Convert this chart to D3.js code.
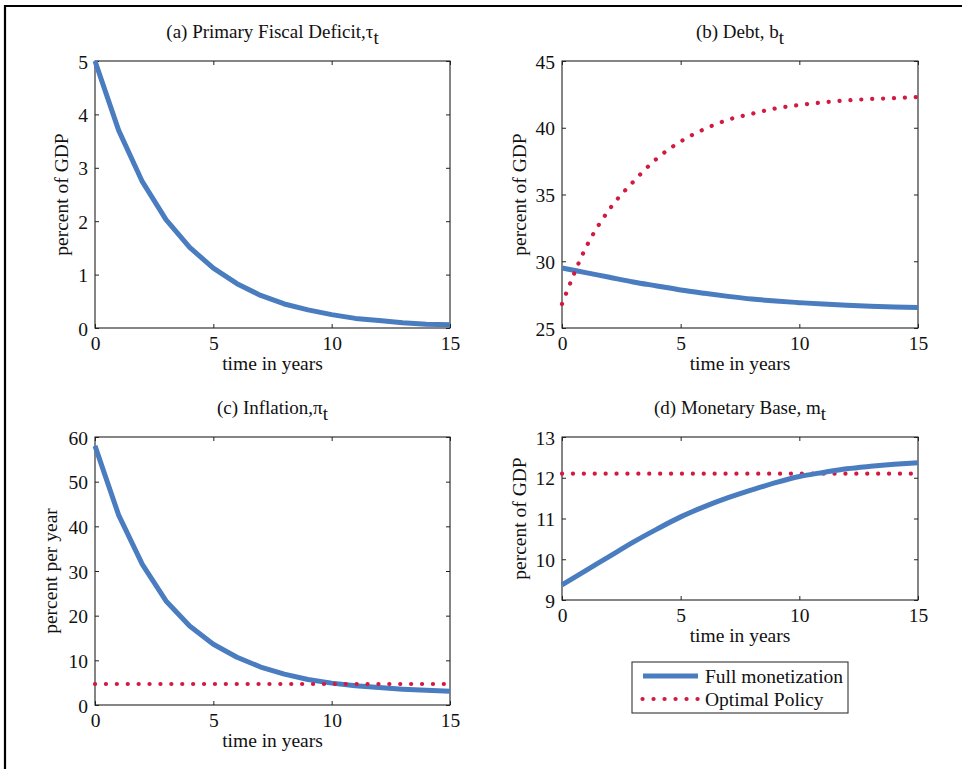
<!DOCTYPE html>
<html>
<head>
<meta charset="utf-8">
<script src="https://cdn.jsdelivr.net/npm/d3@7"></script>
<style>
  html, body { margin: 0; padding: 0; background: #fff; }
  svg { display: block; }
  text { font-family: "Liberation Serif", "Times New Roman", serif; fill: #111; }
</style>
</head>
<body>
<svg id="chart" width="962" height="769"></svg>
<script>
// ---- Data ----
const years = [0,1,2,3,4,5,6,7,8,9,10,11,12,13,14,15];

const deficitFull   = [5.0,3.70,2.74,2.03,1.51,1.12,0.83,0.61,0.45,0.34,0.25,0.18,0.14,0.10,0.07,0.06];

const debtFull      = [29.5,29.15,28.8,28.45,28.15,27.85,27.6,27.37,27.17,27.02,26.9,26.79,26.7,26.63,26.58,26.54];
const debtOptimal   = [26.8,31.0,33.9,35.95,37.7,38.97,39.9,40.6,41.05,41.45,41.7,41.9,42.05,42.15,42.22,42.3];

const inflationFull    = [58.0,42.5,31.5,23.3,17.7,13.6,10.7,8.5,6.9,5.7,4.9,4.3,3.9,3.55,3.3,3.1];
const inflationOptimal = [4.7,4.7,4.7,4.7,4.7,4.7,4.7,4.7,4.7,4.7,4.7,4.7,4.7,4.7,4.7,4.7];

const baseFull      = [9.37,9.72,10.07,10.42,10.74,11.04,11.29,11.51,11.7,11.88,12.03,12.13,12.22,12.28,12.33,12.37];
const baseOptimal   = [12.1,12.1,12.1,12.1,12.1,12.1,12.1,12.1,12.1,12.1,12.1,12.1,12.1,12.1,12.1,12.1];

const xTicks = [0,5,10,15];
const yTicksA = [0,1,2,3,4,5];
const yTicksB = [25,30,35,40,45];
const yTicksC = [0,10,20,30,40,50,60];
const yTicksD = [9,10,11,12,13];

const seriesNames = ["Full monetization", "Optimal Policy"];

// ---- Styles ----
const BLUE = "#4a7cc0";
const RED = "#d21a40";
const FS = 19.5;
const FS_TITLE = 19;
const FONT = "'Liberation Serif', 'Times New Roman', serif";

const svg = d3.select("#chart");

// outer frame (top and left lines)
svg.append("line").attr("x1", 5).attr("x2", 962).attr("y1", 6).attr("y2", 6)
  .attr("stroke", "#000").attr("stroke-width", 2.2);
svg.append("line").attr("x1", 5).attr("x2", 5).attr("y1", 5).attr("y2", 769)
  .attr("stroke", "#000").attr("stroke-width", 2.2);

function panel(cfg) {
  const { x0, x1, y0, y1, yDomain, yTicks, title, sub, ylabel, full, optimal, smooth } = cfg;
  const x = d3.scaleLinear().domain([0, 15]).range([x0, x1]);
  const y = d3.scaleLinear().domain(yDomain).range([y1, y0]);
  const g = svg.append("g");

  const curve = smooth ? d3.curveMonotoneX : d3.curveLinear;
  const line = d3.line().x((d, i) => x(years[i])).y(d => y(d)).curve(curve);

  const clipId = "clip" + Math.round(x0) + "_" + Math.round(y0);
  svg.append("clipPath").attr("id", clipId).append("rect")
    .attr("x", x0 - 3).attr("y", y0 - 3).attr("width", x1 - x0 + 6).attr("height", y1 - y0 + 6);

  g.append("rect").attr("x", x0).attr("y", y0).attr("width", x1 - x0).attr("height", y1 - y0)
    .attr("fill", "none").attr("stroke", "#222").attr("stroke-width", 1.1);

  const axB = d3.axisBottom(x).tickValues(xTicks).tickSize(-4).tickPadding(9).tickFormat(d3.format("d"));
  const axT = d3.axisTop(x).tickValues(xTicks).tickSize(-4).tickFormat("");
  const axL = d3.axisLeft(y).tickValues(yTicks).tickSize(-4).tickPadding(7).tickFormat(d3.format("d"));
  const axR = d3.axisRight(y).tickValues(yTicks).tickSize(-4).tickFormat("");

  const styleAx = sel => {
    sel.attr("font-family", FONT).attr("font-size", FS);
    sel.select(".domain").remove();
    sel.selectAll(".tick line").attr("stroke", "#222").attr("stroke-width", 1);
    sel.selectAll(".tick text").attr("font-size", FS).attr("font-family", FONT).attr("fill", "#111");
  };
  g.append("g").attr("transform", `translate(0,${y1})`).call(axB).call(styleAx)
    .selectAll(".tick text").attr("dy", "0.68em");
  g.append("g").attr("transform", `translate(0,${y0})`).call(axT).call(styleAx);
  g.append("g").attr("transform", `translate(${x0},0)`).call(axL).call(styleAx)
    .selectAll(".tick text").attr("dy", "0.36em");
  g.append("g").attr("transform", `translate(${x1},0)`).call(axR).call(styleAx);

  const lg = svg.append("g").attr("clip-path", `url(#${clipId})`);
  const drawOpt = () => lg.append("path").datum(optimal).attr("d", line).attr("fill", "none")
      .attr("stroke", RED).attr("stroke-width", 4.2).attr("stroke-linecap", "round")
      .attr("stroke-dasharray", "0.1 10.8");
  if (optimal && !cfg.optOnTop) drawOpt();
  if (full) {
    lg.append("path").datum(full).attr("d", line).attr("fill", "none")
      .attr("stroke", BLUE).attr("stroke-width", 5).attr("stroke-linejoin", "round");
  }
  if (optimal && cfg.optOnTop) drawOpt();

  const cx = (x0 + x1) / 2;
  const t = g.append("text").attr("x", cx).attr("y", y0 - 23).attr("text-anchor", "middle")
    .attr("font-size", FS_TITLE).attr("font-family", FONT);
  t.append("tspan").text(title);
  t.append("tspan").attr("dy", 6).text(sub);

  g.append("text").attr("x", cx).attr("y", y1 + 42).attr("text-anchor", "middle")
    .attr("font-size", FS).attr("font-family", FONT).text("time in years");

  g.append("text").attr("transform", `translate(${cfg.ylx},${(y0 + y1) / 2}) rotate(-90)`)
    .attr("text-anchor", "middle").attr("font-size", FS).attr("font-family", FONT).text(ylabel);
}

panel({ x0: 95, x1: 450, y0: 61, y1: 328, yDomain: [0, 5], yTicks: yTicksA,
  title: "(a) Primary Fiscal Deficit,\u03c4", sub: "t", ylabel: "percent of GDP", ylx: 68,
  full: deficitFull, optimal: null, smooth: false });

panel({ x0: 562, x1: 918, y0: 61, y1: 328, yDomain: [25, 45], yTicks: yTicksB,
  title: "(b) Debt, b", sub: "t", ylabel: "percent of GDP", ylx: 526,
  full: debtFull, optimal: debtOptimal, smooth: true, optOnTop: true });

panel({ x0: 95, x1: 450, y0: 437, y1: 705, yDomain: [0, 60], yTicks: yTicksC,
  title: "(c) Inflation,\u03c0", sub: "t", ylabel: "percent per year", ylx: 57,
  full: inflationFull, optimal: inflationOptimal, smooth: false, optOnTop: true });

panel({ x0: 562, x1: 918, y0: 437, y1: 600, yDomain: [9, 13], yTicks: yTicksD,
  title: "(d) Monetary Base, m", sub: "t", ylabel: "percent of GDP", ylx: 526,
  full: baseFull, optimal: baseOptimal, smooth: true, optOnTop: false });

// legend
const leg = svg.append("g");
leg.append("rect").attr("x", 632).attr("y", 662).attr("width", 216).attr("height", 51)
  .attr("fill", "#fff").attr("stroke", "#333").attr("stroke-width", 1.1);
const legendData = [
  { name: seriesNames[0], color: BLUE, dotted: false },
  { name: seriesNames[1], color: RED, dotted: true }
];
legendData.forEach((d, i) => {
  const yy = 676 + i * 23;
  const ln = leg.append("line").attr("x1", 643).attr("x2", 698).attr("y1", yy).attr("y2", yy)
    .attr("stroke", d.color);
  if (d.dotted) {
    ln.attr("x1", 642.5).attr("stroke-width", 4.2).attr("stroke-linecap", "round").attr("stroke-dasharray", "0.1 10.9");
  } else {
    ln.attr("stroke-width", 5);
  }
  leg.append("text").attr("x", 705).attr("y", yy + 6.5).attr("font-size", FS).attr("font-family", FONT).text(d.name);
});
</script>
</body>
</html>
